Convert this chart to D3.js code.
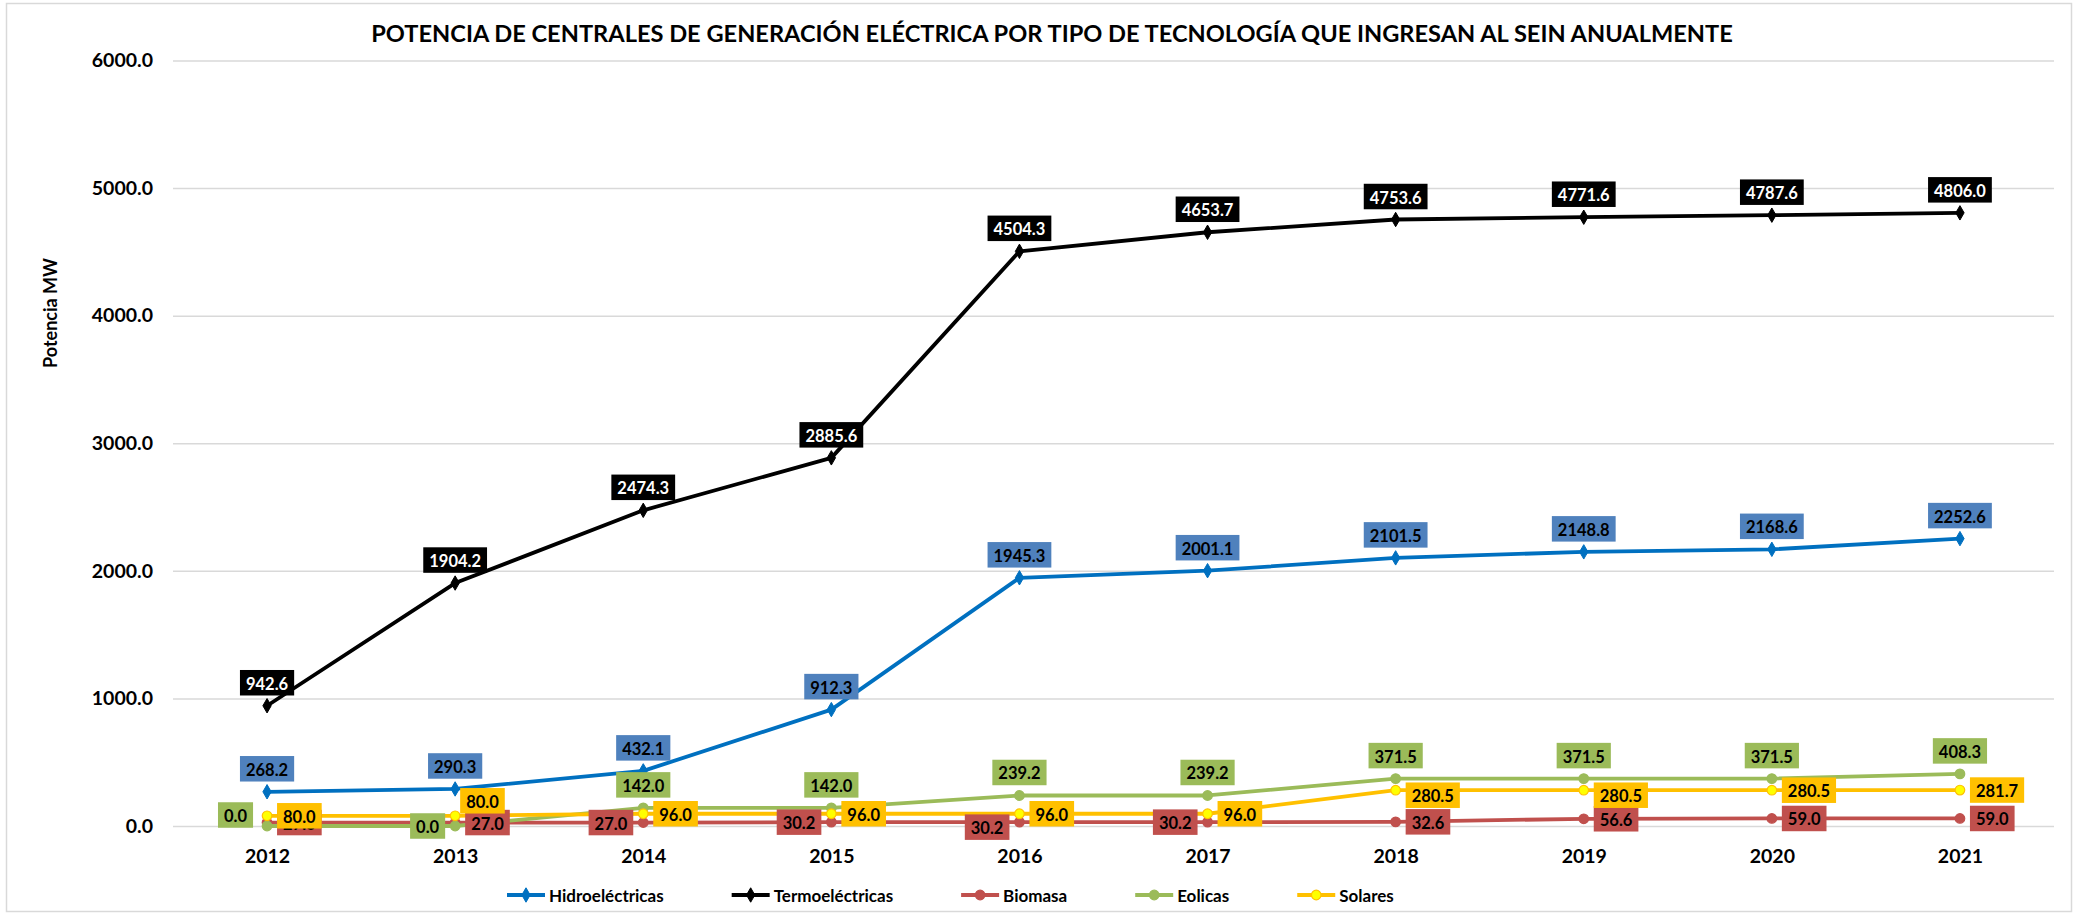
<!DOCTYPE html>
<html>
<head>
<meta charset="utf-8">
<script src="https://cdn.jsdelivr.net/npm/d3@7"></script>
<style>
  body { margin: 0; background: #fff; }
  text { font-family: Lato, "Open Sans", sans-serif; font-weight: bold; }
</style>
</head>
<body>
<div id="chart"></div>
<script>
// data
const years = ["2012","2013","2014","2015","2016","2017","2018","2019","2020","2021"];
const hidro = [268.2, 290.3, 432.1, 912.3, 1945.3, 2001.1, 2101.5, 2148.8, 2168.6, 2252.6];
const termo = [942.6, 1904.2, 2474.3, 2885.6, 4504.3, 4653.7, 4753.6, 4771.6, 4787.6, 4806.0];
const biomasa = [27.0, 27.0, 27.0, 30.2, 30.2, 30.2, 32.6, 56.6, 59.0, 59.0];
const eolicas = [0.0, 0.0, 142.0, 142.0, 239.2, 239.2, 371.5, 371.5, 371.5, 408.3];
const solares = [80.0, 80.0, 96.0, 96.0, 96.0, 96.0, 280.5, 280.5, 280.5, 281.7];
const yTicks = [0, 1000, 2000, 3000, 4000, 5000, 6000];
const seriesNames = ["Hidroeléctricas", "Termoeléctricas", "Biomasa", "Eolicas", "Solares"];

// where each data label sits (t = top, r = right, l = left ...)
const hidroPos = ["t","t","t","t","t","t","t","t","t","t"];
const termoPos = ["t","t","t","t","t","t","t","t","t","t"];
const bioPos = ["r","r","l","l","ld","l","r","r","r","r"];
const eolPos = ["lu","l","t","t","t","t","t","t","t","t"];
const solPos = ["r","tr","r","r","r","r","rd","rd","r","r"];

const W = 2080, H = 917;

const svg = d3.select("#chart")
  .append("svg")
  .attr("width", W)
  .attr("height", H);

svg.append("rect")
  .attr("x", 6.5).attr("y", 3.5)
  .attr("width", 2065).attr("height", 908)
  .attr("fill", "#fff")
  .attr("stroke", "#d9d9d9")
  .attr("stroke-width", 1.5);

// scales
const x = d3.scalePoint()
  .domain(years)
  .range([173, 2054])
  .padding(0.5);

const y = d3.scaleLinear()
  .domain([0, 6000])
  .range([826, 60.5]);

// gridlines + y labels
const yAxis = svg.append("g")
  .attr("transform", "translate(173,0)")
  .call(d3.axisLeft(y).tickValues(yTicks).tickSize(-1881).tickFormat(d3.format(".1f")));
yAxis.select(".domain").remove();
yAxis.selectAll("line").attr("stroke", "#d9d9d9").attr("stroke-width", 1.5);
yAxis.selectAll("text")
  .attr("x", -20)
  .style("font-size", "19.5px")
  .style("font-family", "Lato, sans-serif")
  .attr("fill", "#000");

// x labels
const xAxis = svg.append("g")
  .attr("transform", "translate(0,826)")
  .call(d3.axisBottom(x).tickSize(0));
xAxis.select(".domain").remove();
xAxis.selectAll("text")
  .attr("y", 23)
  .style("font-size", "19.5px")
  .style("font-family", "Lato, sans-serif")
  .attr("fill", "#000");

// y axis title
svg.append("text")
  .attr("transform", "translate(57,313) rotate(-90)")
  .attr("text-anchor", "middle")
  .style("font-size", "18px")
  .text("Potencia MW");

// title, squeezed to the width it has in the picture
const title = svg.append("text")
  .attr("x", 1052)
  .attr("y", 42)
  .attr("text-anchor", "middle")
  .style("font-size", "22px")
  .text("POTENCIA DE CENTRALES DE GENERACIÓN ELÉCTRICA POR TIPO DE TECNOLOGÍA QUE INGRESAN AL SEIN ANUALMENTE");
const tw = title.node().getComputedTextLength();
title.style("font-size", (22 * 1362 / tw) + "px");

const series = [
  {name: seriesNames[0], values: hidro,   pos: hidroPos, line: "#0070C0", box: "#4F81BD", txt: "#000", marker: "diamond"},
  {name: seriesNames[1], values: termo,   pos: termoPos, line: "#000000", box: "#000000", txt: "#fff", marker: "diamond"},
  {name: seriesNames[2], values: biomasa, pos: bioPos,   line: "#C0504D", box: "#C0504D", txt: "#000", marker: "circle", fill: "#C0504D"},
  {name: seriesNames[3], values: eolicas, pos: eolPos,   line: "#9BBB59", box: "#9BBB59", txt: "#000", marker: "circle", fill: "#9BBB59"},
  {name: seriesNames[4], values: solares, pos: solPos,   line: "#FFC000", box: "#FFC000", txt: "#000", marker: "circle", fill: "#FFFF00"}
];

const line = d3.line()
  .x(function(d, i) { return x(years[i]); })
  .y(function(d) { return y(d); });

function drawMarker(g, s, cx, cy) {
  if (s.marker === "diamond") {
    g.append("path")
      .attr("d", d3.symbol(d3.symbolDiamond, 60)())
      .attr("transform", `translate(${cx},${cy})`)
      .attr("fill", s.line)
      .attr("stroke", s.line)
      .attr("stroke-width", 1);
  } else {
    g.append("circle")
      .attr("cx", cx).attr("cy", cy).attr("r", 4.8)
      .attr("fill", s.fill)
      .attr("stroke", s.line)
      .attr("stroke-width", 1.2);
  }
}

// lines and markers
series.forEach(function(s) {
  const g = svg.append("g");
  g.append("path")
    .datum(s.values)
    .attr("fill", "none")
    .attr("stroke", s.line)
    .attr("stroke-width", 3.8)
    .attr("stroke-linejoin", "round")
    .attr("d", line);
  s.values.forEach(function(v, i) { drawMarker(g, s, x(years[i]), y(v)); });
});

// data labels, drawn after all the lines
const fmt = d3.format(".1f");
series.forEach(function(s) {
  const g = svg.append("g");
  s.values.forEach(function(v, i) {
    const px = x(years[i]), py = y(v);
    const t = g.append("text")
      .style("font-size", "16.5px")
      .attr("fill", s.txt)
      .attr("text-anchor", "middle")
      .attr("dominant-baseline", "central")
      .text(fmt(v));
    const w = t.node().getComputedTextLength() + 12, h = 25.5;
    let cx = px, cy = py - 23;
    const p = s.pos[i];
    if (p === "r")  { cx = px + 10 + w / 2; cy = py; }
    if (p === "rd") { cx = px + 10 + w / 2; cy = py + 5; }
    if (p === "l")  { cx = px - 10 - w / 2; cy = py; }
    if (p === "ld") { cx = px - 10 - w / 2; cy = py + 5; }
    if (p === "lu") { cx = px - 14 - w / 2; cy = py - 11; }
    if (p === "tr") { cx = px + 5 + w / 2; cy = py - 15; }
    t.attr("x", cx).attr("y", cy + 1);
    g.insert("rect", function() { return t.node(); })
      .attr("x", cx - w / 2).attr("y", cy - h / 2)
      .attr("width", w).attr("height", h)
      .attr("fill", s.box);
  });
});

// legend
const legend = svg.append("g");
let lx = 507;
const ly = 895;
series.forEach(function(s) {
  const g = legend.append("g");
  g.append("line")
    .attr("x1", lx).attr("x2", lx + 38)
    .attr("y1", ly).attr("y2", ly)
    .attr("stroke", s.line).attr("stroke-width", 3.8);
  drawMarker(g, s, lx + 19, ly);
  const t = g.append("text")
    .attr("x", lx + 42)
    .attr("y", ly)
    .attr("dominant-baseline", "central")
    .style("font-size", "17px")
    .text(s.name);
  lx += 42 + t.node().getComputedTextLength() + 68;
});
</script>
</body>
</html>
